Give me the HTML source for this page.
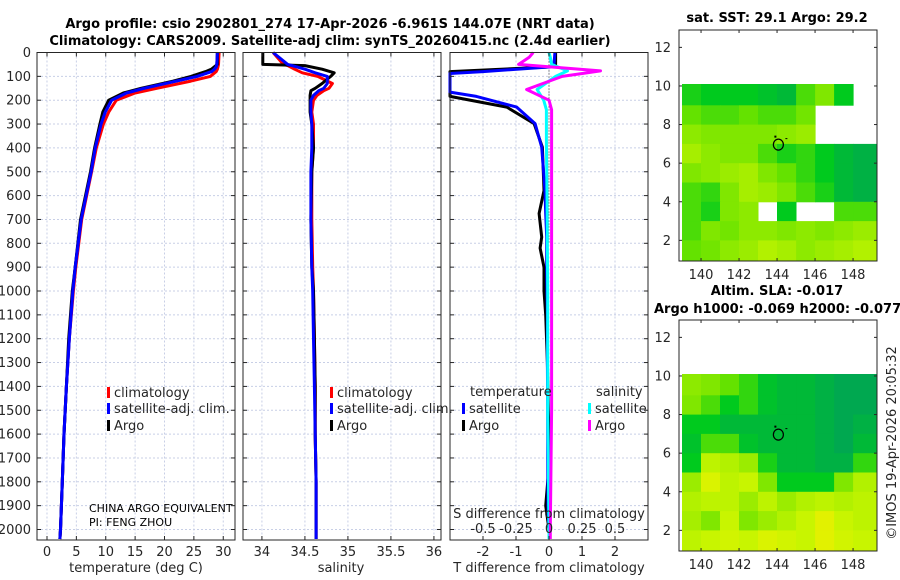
<!DOCTYPE html>
<html><head><meta charset="utf-8"><style>
html,body{margin:0;padding:0;background:#fff;}
svg{display:block;font-family:"DejaVu Sans","Liberation Sans",sans-serif;}
</style></head><body>
<svg id="fig" width="900" height="580" viewBox="0 0 900 580"></svg>
<script>
// ---------- data ----------
const tDepth = [0,50,60,70,80,100,120,150,170,200,250,300,400,500,700,900,1000,1200,1400,1600,1800,2000,2040];
const tClim  = [29.3,29.2,29.1,29.0,28.8,27.8,24.5,18.7,15,11.8,10.5,9.6,8.4,7.6,5.9,4.9,4.5,3.8,3.3,2.9,2.6,2.3,2.2];
const tSat   = [29.0,28.9,28.8,28.5,28.0,25.5,22,16.5,13.5,11,9.9,9.2,8.2,7.5,5.8,4.8,4.4,3.8,3.3,2.9,2.6,2.3,2.2];
const tArgo  = [29.0,29.0,28.5,28.0,27,24.5,21.5,16,13,10.5,9.5,9.0,8.1,7.4,5.7,4.8,4.3,3.7,3.3,2.9,2.6,2.3,2.2];
const sDepth = [0,50,55,70,85,100,130,150,160,180,200,250,300,400,500,700,900,1000,1200,1400,1600,1800,2000,2040];
const sClim  = [34.13,34.25,34.3,34.38,34.47,34.65,34.82,34.78,34.72,34.64,34.6,34.58,34.6,34.6,34.58,34.58,34.59,34.6,34.61,34.62,34.62,34.63,34.63,34.63];
const sSat   = [34.13,34.3,34.35,34.5,34.62,34.76,34.76,34.72,34.66,34.6,34.57,34.57,34.58,34.58,34.57,34.57,34.58,34.59,34.6,34.61,34.62,34.63,34.63,34.63];
const sArgo  = [34.01,34.01,34.5,34.7,34.84,34.8,34.7,34.62,34.57,34.56,34.56,34.56,34.58,34.6,34.58,34.57,34.58,34.6,34.61,34.62,34.62,34.63,34.63,34.63];
const dDepth = [0,50,60,80,88,120,166,184,229,298,397,579,675,774,820,900,1000,1100,1300,1500,1700,1900,2000,2040];
const dTSat  = [0.18,0.15,0.1,-2,-3.2,-3.2,-3.0,-2.2,-0.98,-0.42,-0.22,-0.12,-0.1,-0.07,-0.07,-0.07,-0.06,-0.05,-0.05,-0.04,-0.04,-0.03,0,0];
const dTArgo = [0.2,0.2,0.15,-3.2,-3.2,-3.2,-3.2,-3.0,-1.28,-0.45,-0.2,-0.15,-0.3,-0.22,-0.27,-0.15,-0.15,-0.1,-0.05,-0.02,0.02,-0.1,0,0];
const dSDepth= [0,20,50,77,100,155,200,240,370,600,1000,1500,2000,2040];
const dSArgo = [-0.12,-0.15,-0.23,0.39,0.1,-0.17,0.0,0.02,0.02,0.02,0.02,0.02,0.01,0.01];
const dSSat  = [0,0.01,0.02,0.14,0.05,-0.09,-0.04,-0.02,-0.02,-0.015,-0.01,-0.01,0,0];
const depthTicks = [0,100,200,300,400,500,600,700,800,900,1000,1100,1200,1300,1400,1500,1600,1700,1800,1900,2000];
const tTicks = [0,5,10,15,20,25,30];
const sTicks = [34,34.5,35,35.5,36];
const sTickLabels = ["34","34.5","35","35.5","36"];
const dTTicks = [-2,-1,0,1,2];
const dSTicks = [-0.5,-0.25,0,0.25,0.5];
const dSTickLabels = ["-0.5","-0.25","0","0.25","0.5"];
const lonTicks = [140,142,144,146,148];
const latTicks = [2,4,6,8,10,12];
const mapLons = [139,140,141,142,143,144,145,146,147,148];
const mapLats = [10,9,8,7,6,5,4,3,2];
const sstGrid = [
 [0.25,0.2,0.2,0.2,0.15,0.1,0.35,0.5,0.2,null],
 [0.4,0.35,0.35,0.4,0.35,0.35,0.45,null,null,null],
 [0.55,0.5,0.5,0.5,0.5,0.55,0.6,null,null,null],
 [0.65,0.55,0.5,0.5,0.35,0.25,0.3,0.2,0.1,0.05],
 [0.5,0.55,0.6,0.65,0.5,0.4,0.3,0.2,0.1,0.05],
 [0.35,0.3,0.5,0.65,0.6,0.5,0.35,0.25,0.1,0.05],
 [0.35,0.25,0.5,0.55,null,0.2,null,null,0.35,0.35],
 [0.35,0.5,0.45,0.55,0.55,0.5,0.55,0.5,0.55,0.6],
 [0.4,0.45,0.55,0.6,0.7,0.65,0.55,0.6,0.65,0.7]];
const slaGrid = [
 [0.55,0.5,0.4,0.3,0.15,0.1,0.1,0.05,0.0,0.0],
 [0.5,0.35,0.2,0.3,0.15,0.1,0.1,0.05,0.0,0.0],
 [0.2,0.2,0.1,0.1,0.1,0.1,0.1,0.05,0.0,0.05],
 [0.15,0.35,0.35,0.15,0.1,0.1,0.1,0.05,0.0,0.1],
 [0.2,0.75,0.7,0.6,0.25,0.1,0.1,0.05,0.05,0.3],
 [0.6,0.9,0.75,0.8,0.5,0.2,0.2,0.2,0.5,0.7],
 [0.7,0.75,0.75,0.6,0.75,0.6,0.7,0.75,0.7,0.75],
 [0.65,0.5,0.8,0.5,0.6,0.7,0.8,0.95,0.8,0.75],
 [0.75,0.8,0.85,0.8,0.9,0.85,0.8,0.95,0.85,0.8]];
const floatLon = 144.07, floatLat = 6.96;

// ---------- helpers ----------
const NS="http://www.w3.org/2000/svg";
const svg=document.getElementById('fig');
function mk(tag,attrs,parent){const e=document.createElementNS(NS,tag);for(const k in attrs)e.setAttribute(k,attrs[k]);(parent||svg).appendChild(e);return e;}
function txt(x,y,s,attrs){const e=mk('text',Object.assign({x:x,y:y,'font-size':13,fill:'#262626'},attrs||{}));e.textContent=s;return e;}
const TOP=52.5, BOT=540;
const yD=d=>TOP+d*(BOT-TOP)/2044;
function axT(v){return 37+(v+1.7)*(198/33.7);}
function axS(v){return 243+(v-33.78)*86;}
function axDT(v){return 549+v*33;}
function axDS(v){return 549+v*132;}
function grid(x0,x1,xt,xf){
  const g=mk('g',{});
  
  
  depthTicks.forEach(d=>mk('line',{x1:x0,x2:x1,y1:yD(d),y2:yD(d),stroke:'#c8cfe6','stroke-dasharray':'2,2','stroke-width':1},g));
  xt.forEach(v=>mk('line',{x1:xf(v),x2:xf(v),y1:TOP,y2:BOT,stroke:'#c8cfe6','stroke-dasharray':'2,2','stroke-width':1},g));
}
function frame(x0,x1,xt,xf,name){
  const r=mk('rect',{x:x0,y:TOP,width:x1-x0,height:BOT-TOP,fill:'none',stroke:'#262626','stroke-width':1});
  
  
  depthTicks.forEach(d=>{mk('line',{x1:x0,x2:x0+4,y1:yD(d),y2:yD(d),stroke:'#262626'});mk('line',{x1:x1-4,x2:x1,y1:yD(d),y2:yD(d),stroke:'#262626'});});
  xt.forEach(v=>{mk('line',{x1:xf(v),x2:xf(v),y1:BOT,y2:BOT-4,stroke:'#262626'});mk('line',{x1:xf(v),x2:xf(v),y1:TOP,y2:TOP+4,stroke:'#262626'});});
}
function line(depths,vals,xf,color,name,x0,x1){
  const pts=depths.map((d,i)=>{let x=xf(vals[i]);x=Math.max(x0,Math.min(x1,x));return x.toFixed(1)+','+yD(d).toFixed(1);}).join(' ');
  const p=mk('polyline',{points:pts,fill:'none',stroke:color,'stroke-width':3,'stroke-linejoin':'round'});
  
  
}
function legendEntry(x,y,color,label,name){
  const g=mk('g',{});
  
  
  mk('rect',{x:x,y:y-10,width:3,height:11,fill:color},g);
  const t=txt(x+7,y,label,{});g.appendChild(t);
}

// titles
let t1=txt(330,28,"Argo profile: csio 2902801_274 17-Apr-2026 -6.961S 144.07E (NRT data)",{'font-weight':'bold','text-anchor':'middle',fill:'#000'});

let t2=txt(330,45,"Climatology: CARS2009. Satellite-adj clim: synTS_20260415.nc (2.4d earlier)",{'font-weight':'bold','text-anchor':'middle',fill:'#000'});


// ---- panel 1: temperature ----
grid(37,235,tTicks,axT);
line(tDepth,tClim,axT,'#ff0000','temperature-climatology-line',37,235);
line(tDepth,tSat,axT,'#0000ff','temperature-satellite-line',37,235);
line(tDepth,tArgo,axT,'#000000','temperature-argo-line',37,235);
line(tDepth,tSat,axT,'#0000ff','temperature-satellite-line-top',37,235);
frame(37,235,tTicks,axT,'temperature-axes');
depthTicks.forEach(d=>{const e=txt(31,yD(d)+4.5,String(d),{'text-anchor':'end'});});
tTicks.forEach(v=>{const e=txt(axT(v),556,String(v),{'text-anchor':'middle'});});
let xl1=txt(136,572,"temperature (deg C)",{'text-anchor':'middle'});
legendEntry(107,397,'#ff0000','climatology','legend-climatology');
legendEntry(107,413,'#0000ff','satellite-adj. clim.','legend-satellite-adj');
legendEntry(107,430,'#000000','Argo','legend-argo');
let c1=txt(89,512,"CHINA ARGO EQUIVALENT",{'font-size':11,fill:'#000'});
let c2=txt(89,526,"PI: FENG ZHOU",{'font-size':11,fill:'#000'});

// ---- panel 2: salinity ----
grid(243,441,sTicks,axS);
line(sDepth,sClim,axS,'#ff0000','salinity-climatology-line',243,441);
line(sDepth,sArgo,axS,'#000000','salinity-argo-line',243,441);
line(sDepth,sSat,axS,'#0000ff','salinity-satellite-line',243,441);
frame(243,441,sTicks,axS,'salinity-axes');
sTicks.forEach((v,i)=>{const e=txt(axS(v),556,sTickLabels[i],{'text-anchor':'middle'});});
let xl2=txt(341,572,"salinity",{'text-anchor':'middle'});
legendEntry(330,397,'#ff0000','climatology','legend-climatology-2');
legendEntry(330,413,'#0000ff','satellite-adj. clim.','legend-satellite-adj-2');
legendEntry(330,430,'#000000','Argo','legend-argo-2');

// ---- panel 3: differences ----
grid(450,648,dTTicks,axDT);
const zl=mk('line',{x1:549,x2:549,y1:TOP,y2:yD(800),stroke:'#333','stroke-dasharray':'1,2','stroke-width':1});

line(dDepth,dTArgo,axDT,'#000000','t-diff-argo-line',450,648);
line(dDepth,dTSat,axDT,'#0000ff','t-diff-satellite-line',450,648);
line(dSDepth,dSSat,axDS,'#00ffff','s-diff-satellite-line',450,648);
line(dSDepth,dSArgo,axDS,'#ff00ff','s-diff-argo-line',450,648);
frame(450,648,dTTicks,axDT,'difference-axes');
dTTicks.forEach(v=>{const e=txt(axDT(v),556,String(v),{'text-anchor':'middle'});});
dSTicks.forEach((v,i)=>{const e=txt(axDS(v),533,dSTickLabels[i],{'text-anchor':'middle'});});
let sl=txt(549,518,"S difference from climatology",{'text-anchor':'middle'});
let xl3=txt(549,572,"T difference from climatology",{'text-anchor':'middle'});
let lh1=txt(470,396,"temperature",{});
let lh2=txt(596,396,"salinity",{});
legendEntry(462,413,'#0000ff','satellite','legend-t-satellite');
legendEntry(462,430,'#000000','Argo','legend-t-argo');
legendEntry(588,413,'#00ffff','satellite','legend-s-satellite');
legendEntry(588,430,'#ff00ff','Argo','legend-s-argo');

// ---- maps ----
const MX0=679,MX1=877;
const mx=lon=>MX0+(lon-138.84)*(MX1-MX0)/(149.26-138.84);
const stops=[[0,[0,168,80]],[0.2,[0,202,30]],[0.4,[100,226,0]],[0.6,[155,236,0]],[0.8,[200,245,0]],[1,[235,240,0]]];
function cmap(v){for(let i=1;i<stops.length;i++){if(v<=stops[i][0]){const a=stops[i-1],b=stops[i],f=(v-a[0])/(b[0]-a[0]);const c=a[1].map((x,k)=>Math.round(x+(b[1][k]-x)*f));return 'rgb('+c.join(',')+')';}}return 'rgb(235,240,0)';}
function drawMap(Y0,Y1,gridv,name){
  const my=lat=>Y0+(12.9-lat)*(Y1-Y0)/(12.9-0.93);
  const g=mk('g',{});
  
  
  gridv.forEach((row,r)=>row.forEach((v,c)=>{
    if(v===null)return;
    const lon0=mapLons[c], lon1=(c===mapLons.length-1)?149.26:lon0+1;
    const latTop=(r===0)?10.1:mapLats[r], latBot=(r===mapLats.length-1)?0.93:mapLats[r]-1;
    const cell=mk('rect',{x:mx(Math.max(lon0,138.84)).toFixed(1),y:my(latTop).toFixed(1),width:(mx(lon1)-mx(Math.max(lon0,138.84))+0.5).toFixed(1),height:(my(latBot)-my(latTop)+0.5).toFixed(1),fill:cmap(v)},g);
    
    
  }));
  const fr=mk('rect',{x:MX0,y:Y0,width:MX1-MX0,height:Y1-Y0,fill:'none',stroke:'#262626'});
  
  lonTicks.forEach(l=>{mk('line',{x1:mx(l),x2:mx(l),y1:Y1,y2:Y1-3,stroke:'#262626'});mk('line',{x1:mx(l),x2:mx(l),y1:Y0,y2:Y0+3,stroke:'#262626'});
    const e=txt(mx(l),Y1+18,String(l),{'text-anchor':'middle'});});
  latTicks.forEach(l=>{mk('line',{x1:MX0,x2:MX0+3,y1:my(l),y2:my(l),stroke:'#262626'});mk('line',{x1:MX1-3,x2:MX1,y1:my(l),y2:my(l),stroke:'#262626'});
    const e=txt(671,my(l)+4.5,String(l),{'text-anchor':'end'});});
  const ci=mk('ellipse',{cx:mx(floatLon),cy:my(floatLat),rx:5,ry:5.5,fill:'none',stroke:'#000','stroke-width':1.2});
  
  mk('rect',{x:mx(floatLon)-4,y:my(floatLat)-9,width:2,height:2,fill:'#000'});
  mk('line',{x1:mx(floatLon)+7,x2:mx(floatLon)+9,y1:my(floatLat)-6,y2:my(floatLat)-6,stroke:'#000'});
}
drawMap(30,261,sstGrid,'sst-map');
drawMap(320,551,slaGrid,'sla-map');
let mt1=txt(777,22,"sat. SST: 29.1 Argo: 29.2",{'font-weight':'bold','text-anchor':'middle',fill:'#000'});

let mt2=txt(777,295,"Altim. SLA: -0.017",{'font-weight':'bold','text-anchor':'middle',fill:'#000'});

let mt3=txt(654,313,"Argo h1000: -0.069 h2000: -0.077",{'font-weight':'bold',fill:'#000'});

let cp=txt(0,0,"©IMOS 19-Apr-2026 20:05:32",{'text-anchor':'middle',transform:'translate(896,443) rotate(-90)'});

</script>
</body></html>
